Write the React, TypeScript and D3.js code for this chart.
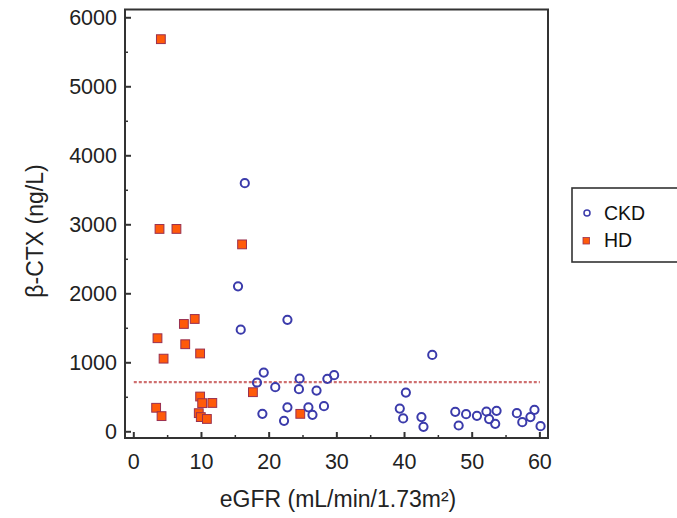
import React from "react";
import * as d3 from "d3";

const ckdX = [16.4, 15.4, 15.8, 22.7, 19.2, 18.2, 20.9, 24.5, 24.4, 27.0, 28.6, 29.6, 19.0, 22.7, 22.2, 25.8, 26.4, 28.1, 44.1, 40.2, 39.3, 39.8, 42.5, 42.8, 47.5, 48.0, 49.1, 50.7, 52.1, 52.5, 53.6, 53.4, 56.6, 57.4, 58.6, 59.2, 60.1];
const ckdY = [3603, 2108, 1480, 1623, 858, 714, 646, 770, 617, 598, 767, 820, 260, 355, 159, 355, 246, 371, 1114, 569, 337, 193, 213, 72, 289, 91, 256, 232, 294, 184, 304, 116, 270, 140, 213, 318, 82];

const hdX = [4.0, 3.8, 6.3, 16.0, 3.5, 4.4, 7.4, 9.0, 7.6, 9.8, 17.6, 3.3, 4.1, 9.8, 10.1, 11.6, 9.6, 9.9, 10.8, 24.6];
const hdY = [5690, 2940, 2940, 2716, 1356, 1060, 1563, 1635, 1269, 1135, 574, 348, 227, 511, 415, 418, 270, 213, 186, 260];

const xTicks = [0, 10, 20, 30, 40, 50, 60];
const xMinor = [5, 15, 25, 35, 45, 55];
const yTicks = [0, 1000, 2000, 3000, 4000, 5000, 6000];
const yMinor = [500, 1500, 2500, 3500, 4500, 5500];
const refValue = 720;

const seriesNames = ["CKD", "HD"];
const xTitle = "eGFR (mL/min/1.73m²)";
const yTitle = "β-CTX (ng/L)";

const FONT = "'Liberation Sans', Arial, Helvetica, sans-serif";
const AX = "#333";
const CIRC = "#3b3bab";
const SQ_FILL = "#ff5a0a";
const SQ_STROKE = "#9a3050";

export default function App() {
  const L = 125, R = 548, T = 9.5, B = 438;
  const x = d3.scaleLinear().domain([-1.3, 61.2]).range([L, R]);
  const y = d3.scaleLinear().domain([-90, 6120]).range([B, T]);
  const sq = 8.8;

  return (
    <svg width={677} height={518} style={{ position: "absolute", left: 0, top: 0, background: "#fff" }} fontFamily={FONT}>
      <line x1={x(0)} x2={x(60)} y1={y(refValue)} y2={y(refValue)} stroke="#cf6f6f" strokeWidth={2.2} strokeDasharray="3,2" />

      {hdX.map((v, i) => (
        <rect key={"h" + i} x={x(v) - sq / 2} y={y(hdY[i]) - sq / 2} width={sq} height={sq} fill={SQ_FILL} stroke={SQ_STROKE} strokeWidth={1} />
      ))}
      {ckdX.map((v, i) => (
        <circle key={"c" + i} cx={x(v)} cy={y(ckdY[i])} r={4.1} fill="none" stroke={CIRC} strokeWidth={2} />
      ))}

      <rect x={L} y={T} width={R - L} height={B - T} fill="none" stroke={AX} strokeWidth={2} />

      {xTicks.map((t) => (
        <g key={"xt" + t}>
          <line x1={x(t)} x2={x(t)} y1={B} y2={B - 6} stroke={AX} strokeWidth={2} />
          <text x={x(t)} y={469} textAnchor="middle" fontSize={21.5} fill="#222">{t}</text>
        </g>
      ))}
      {xMinor.map((t) => (
        <line key={"xm" + t} x1={x(t)} x2={x(t)} y1={B} y2={B - 3} stroke={AX} strokeWidth={1.5} />
      ))}
      {yTicks.map((t) => (
        <g key={"yt" + t}>
          <line x1={L} x2={L + 6} y1={y(t)} y2={y(t)} stroke={AX} strokeWidth={2} />
          <text x={117} y={y(t) + 7.7} textAnchor="end" fontSize={21.5} fill="#222">{t}</text>
        </g>
      ))}
      {yMinor.map((t) => (
        <line key={"ym" + t} x1={L} x2={L + 3} y1={y(t)} y2={y(t)} stroke={AX} strokeWidth={1.5} />
      ))}

      <text x={338} y={507} textAnchor="middle" fontSize={23} fill="#222">{xTitle}</text>
      <text transform={`translate(43,231) rotate(-90)`} textAnchor="middle" fontSize={23} fill="#222">{yTitle}</text>

      <rect x={572} y={188} width={120} height={74} fill="#fff" stroke={AX} strokeWidth={1.6} />
      <circle cx={587} cy={213} r={3} fill="none" stroke={CIRC} strokeWidth={1.5} />
      <text x={604} y={220} fontSize={19.5} fill="#111">{seriesNames[0]}</text>
      <rect x={583} y={237.5} width={6.5} height={6.5} fill={SQ_FILL} stroke={SQ_STROKE} strokeWidth={0.8} />
      <text x={604} y={247} fontSize={19.5} fill="#111">{seriesNames[1]}</text>
    </svg>
  );
}
